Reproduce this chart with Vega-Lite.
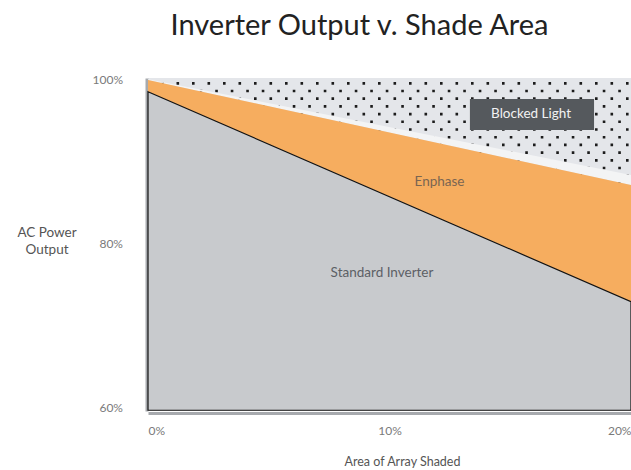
{
  "$schema": "https://vega.github.io/schema/vega-lite/v6.json",
  "width": 483,
  "height": 333,
  "autosize": "none",
  "padding": {"left": 148, "top": 78, "right": 0, "bottom": 59},
  "background": "white",
  "title": {
    "text": "Inverter Output v. Shade Area",
    "font": "Lato",
    "fontSize": 29,
    "fontWeight": "normal",
    "color": "#222222",
    "anchor": "middle",
    "baseline": "alphabetic",
    "offset": 10,
    "dx": -30
  },
  "datasets": {
    "curves": [
      {"shaded": 0, "standard": 98.57, "enphase": 100.0, "blocked": 100.1},
      {"shaded": 20, "standard": 72.96, "enphase": 87.19, "blocked": 88.41}
    ],
    "dots": [
      {"row": 0, "level": 99.59}, {"row": 1, "level": 98.65}, {"row": 2, "level": 97.72},
      {"row": 3, "level": 96.78}, {"row": 4, "level": 95.84}, {"row": 5, "level": 94.90},
      {"row": 6, "level": 93.96}, {"row": 7, "level": 93.02}, {"row": 8, "level": 92.08},
      {"row": 9, "level": 91.14}, {"row": 10, "level": 90.20}, {"row": 11, "level": 89.26},
      {"row": 12, "level": 88.33}, {"row": 13, "level": 87.39}
    ],
    "box": [{"x1": 13.33, "x2": 18.47, "y1": 97.68, "y2": 93.9, "label": "Blocked Light", "xc": 15.86, "yc": 95.81}],
    "labels": [
      {"label": "Enphase", "x": 12.07, "y": 87.56},
      {"label": "Standard Inverter", "x": 9.69, "y": 76.46}
    ]
  },
  "config": {
    "view": {"fill": "#e4e6ea", "stroke": null},
    "axis": {"grid": false},
    "axisX": {
      "labelFlush": true,
      "domain": true, "domainColor": "#a7aaae", "domainWidth": 3,
      "offset": 2,
      "ticks": false, "tickSize": 0,
      "labelPadding": 12,
      "labelFont": "Lato", "labelFontSize": 12, "labelColor": "#7a7a7a",
      "titleFont": "Lato", "titleFontSize": 12.5, "titleFontWeight": "normal", "titleColor": "#555555",
      "titleX": 254, "titleY": 42, "titleAlign": "center", "titleBaseline": "top"
    },
    "axisY": {
      "domain": true, "domainColor": "#a7aaae", "domainWidth": 3,
      "offset": 1.5,
      "ticks": false, "tickSize": 0,
      "labelPadding": 24,
      "labelFont": "Lato", "labelFontSize": 12, "labelColor": "#7a7a7a",
      "titleAngle": 0, "titleAlign": "center", "titleBaseline": "middle",
      "titleX": -100, "titleY": 154,
      "titleFont": "Lato", "titleFontSize": 13.5, "titleFontWeight": "normal", "titleColor": "#555555",
      "titleLineHeight": 17
    }
  },
  "layer": [
    {
      "data": {"name": "dots"},
      "transform": [{"filter": "datum.row % 2 == 0"}],
      "mark": {"type": "rule", "color": "#1c1c1c", "strokeWidth": 2.6, "strokeDash": [2.6, 12.9], "strokeDashOffset": 13.1},
      "encoding": {
        "y": {"field": "level", "type": "quantitative", "title": ["AC Power", "Output"], "scale": {"domain": [59.63, 100.24], "nice": false, "zero": false}, "axis": {"values": [60, 80, 100], "labelExpr": "datum.value + '%'"}}
      }
    },
    {
      "data": {"name": "dots"},
      "transform": [{"filter": "datum.row % 2 == 1"}],
      "mark": {"type": "rule", "color": "#1c1c1c", "strokeWidth": 2.6, "strokeDash": [2.6, 12.9], "strokeDashOffset": 5.35},
      "encoding": {
        "y": {"field": "level", "type": "quantitative", "title": ["AC Power", "Output"], "axis": {"values": [60, 80, 100], "labelExpr": "datum.value + '%'"}}
      }
    },
    {
      "data": {"name": "curves"},
      "mark": {"type": "area", "color": "#f3f4f5"},
      "encoding": {
        "x": {"field": "shaded", "type": "quantitative", "title": "Area of Array Shaded", "scale": {"domain": [0, 20], "nice": false}, "axis": {"values": [0, 10, 20], "labelExpr": "datum.value + '%'"}},
        "y": {"field": "enphase", "type": "quantitative", "title": ["AC Power", "Output"], "axis": {"values": [60, 80, 100], "labelExpr": "datum.value + '%'"}},
        "y2": {"field": "blocked"}
      }
    },
    {
      "data": {"name": "curves"},
      "mark": {"type": "area", "color": "#f6ad5f"},
      "encoding": {
        "x": {"field": "shaded", "type": "quantitative", "title": "Area of Array Shaded", "axis": {"values": [0, 10, 20], "labelExpr": "datum.value + '%'"}},
        "y": {"field": "standard", "type": "quantitative", "title": ["AC Power", "Output"], "axis": {"values": [60, 80, 100], "labelExpr": "datum.value + '%'"}},
        "y2": {"field": "enphase"}
      }
    },
    {
      "data": {"name": "curves"},
      "mark": {"type": "area", "fill": "#c8cacd", "stroke": "#111111", "strokeWidth": 1.2},
      "encoding": {
        "x": {"field": "shaded", "type": "quantitative", "title": "Area of Array Shaded", "axis": {"values": [0, 10, 20], "labelExpr": "datum.value + '%'"}},
        "y": {"field": "standard", "type": "quantitative", "title": ["AC Power", "Output"], "axis": {"values": [60, 80, 100], "labelExpr": "datum.value + '%'"}},
        "y2": {"datum": 59.72}
      }
    },
    {
      "data": {"name": "box"},
      "mark": {"type": "rect", "color": "#55595d"},
      "encoding": {
        "x": {"field": "x1", "type": "quantitative", "title": "Area of Array Shaded", "axis": {"values": [0, 10, 20], "labelExpr": "datum.value + '%'"}},
        "x2": {"field": "x2"},
        "y": {"field": "y1", "type": "quantitative", "title": ["AC Power", "Output"], "axis": {"values": [60, 80, 100], "labelExpr": "datum.value + '%'"}},
        "y2": {"field": "y2"}
      }
    },
    {
      "data": {"name": "box"},
      "mark": {"type": "text", "font": "Lato", "fontSize": 13.5, "color": "#f2f2f2", "align": "center", "baseline": "middle"},
      "encoding": {
        "x": {"field": "xc", "type": "quantitative", "title": "Area of Array Shaded", "axis": {"values": [0, 10, 20], "labelExpr": "datum.value + '%'"}},
        "y": {"field": "yc", "type": "quantitative", "title": ["AC Power", "Output"], "axis": {"values": [60, 80, 100], "labelExpr": "datum.value + '%'"}},
        "text": {"field": "label"}
      }
    },
    {
      "data": {"name": "labels"},
      "mark": {"type": "text", "font": "Lato", "fontSize": 13.5, "align": "center", "baseline": "middle"},
      "encoding": {
        "x": {"field": "x", "type": "quantitative", "title": "Area of Array Shaded", "axis": {"values": [0, 10, 20], "labelExpr": "datum.value + '%'"}},
        "y": {"field": "y", "type": "quantitative", "title": ["AC Power", "Output"], "axis": {"values": [60, 80, 100], "labelExpr": "datum.value + '%'"}},
        "text": {"field": "label"},
        "color": {"field": "label", "type": "nominal", "scale": {"domain": ["Enphase", "Standard Inverter"], "range": ["#7a6552", "#5c6065"]}, "legend": null}
      }
    }
  ]
}
